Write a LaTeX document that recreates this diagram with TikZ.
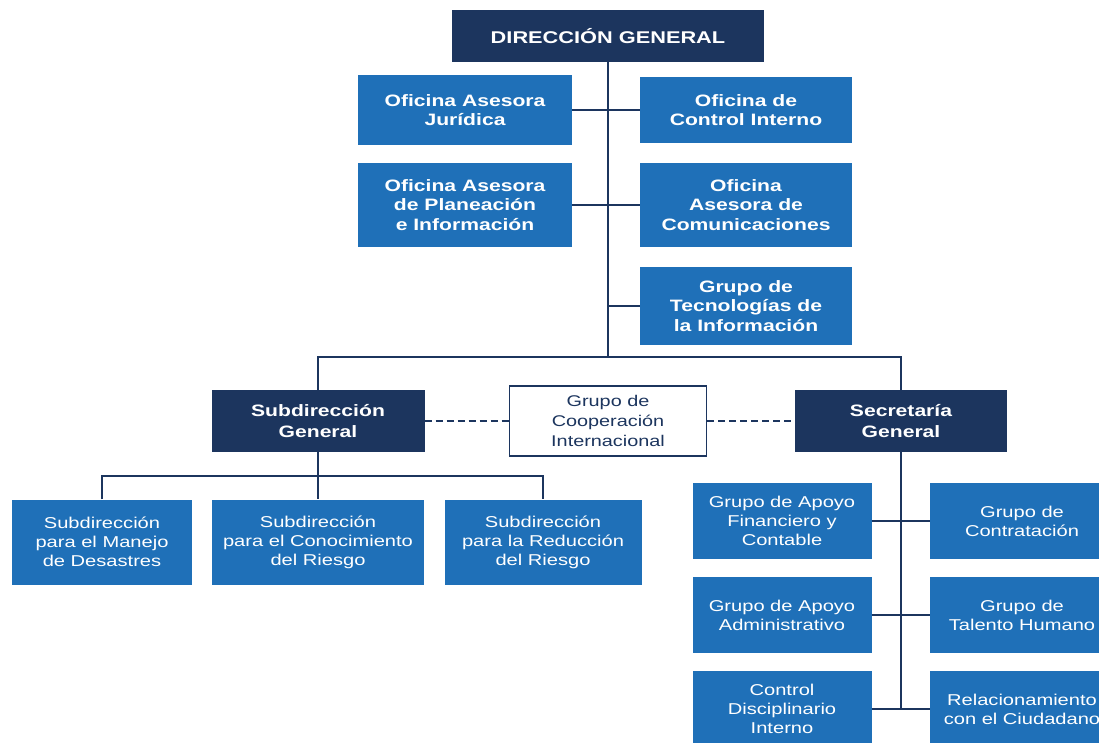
\documentclass[tikz,border=0pt]{standalone}
\usepackage{fontspec}
\setmainfont{Liberation Sans}[FakeStretch=1.28]
\definecolor{navy}{HTML}{1C355E}
\definecolor{midblue}{HTML}{1F70B8}
\tikzset{
  base/.style={rectangle, inner sep=0pt, align=center, text=white},
  dk/.style={base, fill=navy, font=\bfseries\fontsize{16.5}{21}\selectfont},
  bb/.style={base, fill=midblue, font=\bfseries\fontsize{16.5}{19.5}\selectfont},
  lb/.style={base, fill=midblue, font=\fontsize{15.7}{19}\selectfont},
  wb/.style={base, fill=white, draw=navy, line width=1.3pt, text=navy, font=\fontsize{15.5}{20}\selectfont},
  conn/.style={draw=navy, line width=2.9pt},
  dconn/.style={draw=navy, line width=2pt, dash pattern=on 7pt off 4pt},
}
\begin{document}
\begin{tikzpicture}[x=1pt, y=-1pt]
\path[use as bounding box] (0,0) rectangle (1099,742);
\clip (0,0) rectangle (1099,742);
\fill[white] (0,0) rectangle (1099,742);

% top
\node[dk, minimum width=312pt, minimum height=52pt, font=\bfseries\fontsize{17}{21}\selectfont] (dg) at (608,36) {DIRECCIÓN GENERAL};
\node[bb, minimum width=214pt, minimum height=70pt] (jur) at (465,110) {Oficina Asesora\\Jurídica};
\node[bb, minimum width=212pt, minimum height=66pt] (ci) at (746,110) {Oficina de\\Control Interno};
\node[bb, minimum width=214pt, minimum height=84pt] (pla) at (465,205) {Oficina Asesora\\de Planeación\\e Información};
\node[bb, minimum width=212pt, minimum height=84pt] (com) at (746,205) {Oficina\\Asesora de\\Comunicaciones};
\node[bb, minimum width=212pt, minimum height=78pt] (tec) at (746,306) {Grupo de\\Tecnologías de\\la Información};

% middle
\node[dk, minimum width=213pt, minimum height=62pt] (sg) at (318,421) {Subdirección\\General};
\node[wb, minimum width=197pt, minimum height=70pt] (coop) at (608,421) {Grupo de\\Cooperación\\Internacional};
\node[dk, minimum width=212pt, minimum height=62pt] (sec) at (901,421) {Secretaría\\General};

% lower left
\node[lb, minimum width=180pt, minimum height=85pt] (man) at (102,542) {Subdirección\\para el Manejo\\de Desastres};
\node[lb, minimum width=212pt, minimum height=85pt] (con) at (318,542) {Subdirección\\para el Conocimiento\\del Riesgo};
\node[lb, minimum width=197pt, minimum height=85pt] (red) at (543,542) {Subdirección\\para la Reducción\\del Riesgo};

% lower right
\node[lb, minimum width=179pt, minimum height=76pt] (fin) at (782,521) {Grupo de Apoyo\\Financiero y\\Contable};
\node[lb, minimum width=184pt, minimum height=76pt] (cont) at (1022,521) {Grupo de\\Contratación};
\node[lb, minimum width=179pt, minimum height=76pt] (adm) at (782,615) {Grupo de Apoyo\\Administrativo};
\node[lb, minimum width=184pt, minimum height=76pt] (tal) at (1022,615) {Grupo de\\Talento Humano};
\node[lb, minimum width=179pt, minimum height=76pt] (cdi) at (782,709) {Control\\Disciplinario\\Interno};
\node[lb, minimum width=184pt, minimum height=76pt] (rel) at (1022,709) {Relacionamiento\\con el Ciudadano};

% connectors
\coordinate (bus) at (608,357);
\coordinate (lbus) at (318,476);
\coordinate (rend) at (901,709);
\draw[conn] (dg.south) -- (bus);
\draw[conn] (jur.east) -- (ci.west);
\draw[conn] (pla.east) -- (com.west);
\draw[conn] (tec.west) -- (tec.west -| dg.south);
\draw[conn] (sg.north) |- (bus) -| (sec.north);
\draw[conn] (sg.south) -- (con.north);
\draw[conn] (man.north) |- (lbus) -| (red.north);
\draw[conn] (sec.south) -- (rend);
\draw[conn] (fin.east) -- (cont.west);
\draw[conn] (adm.east) -- (tal.west);
\draw[conn] (cdi.east) -- (rel.west);
\draw[dconn] (sg.east) -- (coop.west);
\draw[dconn] (coop.east) -- (sec.west);
\end{tikzpicture}
\end{document}
